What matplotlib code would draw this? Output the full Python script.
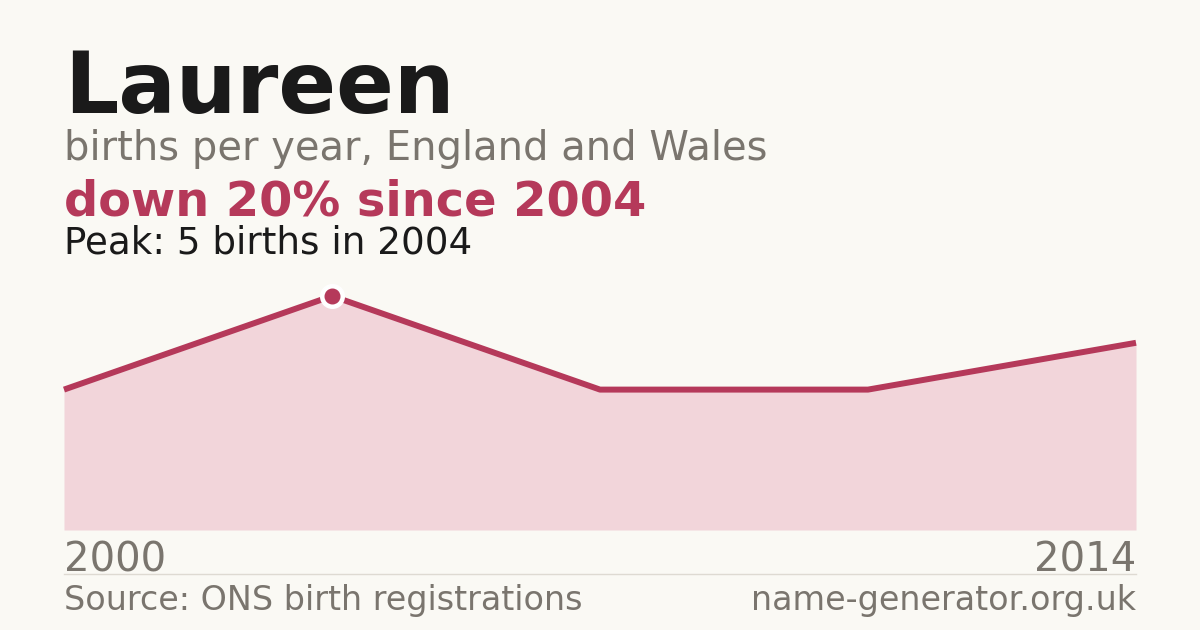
import numpy as np
import matplotlib
matplotlib.use("Agg")
import matplotlib.pyplot as plt

# data (points evenly spaced across 2000-2014)
births = [3, 5, 3, 3, 4]
first_year = "2000"
last_year = "2014"
peak_idx = 1

bg = "#faf9f4"
red = "#b5395a"
fill = "#f2d5da"
grey = "#7a756e"
dark = "#1a1a1a"

W, H = 1200, 630
fig = plt.figure(figsize=(12, 6.3), dpi=100, facecolor=bg)

def px(x, y):
    return x / W, 1 - y / H

# axes: x 64..1136, y value 0 at 530, value 5 at 296
ax = fig.add_axes([64 / W, 1 - 530 / H, (1136 - 64) / W, (530 - 296) / H])
ax.set_facecolor(bg)
x = np.arange(len(births))
ax.fill_between(x, births, 0, color=fill, lw=0)
ax.plot(x, births, color=red, lw=4.3, clip_on=False, solid_capstyle="butt")
ax.plot(x[peak_idx], births[peak_idx], "o", ms=17, color="white", clip_on=False, zorder=5)
ax.plot(x[peak_idx], births[peak_idx], "o", ms=10.5, color=red, clip_on=False, zorder=6)
ax.set_xlim(0, len(births) - 1)
ax.set_ylim(0, max(births))
ax.axis("off")

fig.text(*px(64, 113), "Laureen", fontsize=61.3, fontweight="bold", color=dark, va="baseline")
fig.text(*px(64, 160), "births per year, England and Wales", fontsize=28.8, color=grey, va="baseline")
fig.text(*px(64, 215), "down 20% since 2004", fontsize=34.5, fontweight="bold", color=red, va="baseline")
fig.text(*px(64, 253), "Peak: 5 births in 2004", fontsize=26.8, color=dark, va="baseline")

fig.text(*px(64, 571), first_year, fontsize=28.9, color=grey, va="baseline")
fig.text(*px(1136, 571), last_year, fontsize=28.9, color=grey, va="baseline", ha="right")
fig.add_artist(plt.Line2D([64 / W, 1136 / W], [1 - 574 / H] * 2, color="#dedad2", lw=1))
fig.text(*px(64, 610), "Source: ONS birth registrations", fontsize=24, color=grey, va="baseline")
fig.text(*px(1136, 610), "name-generator.org.uk", fontsize=24, color=grey, va="baseline", ha="right")

fig.savefig("out.png", dpi=100, facecolor=bg)
